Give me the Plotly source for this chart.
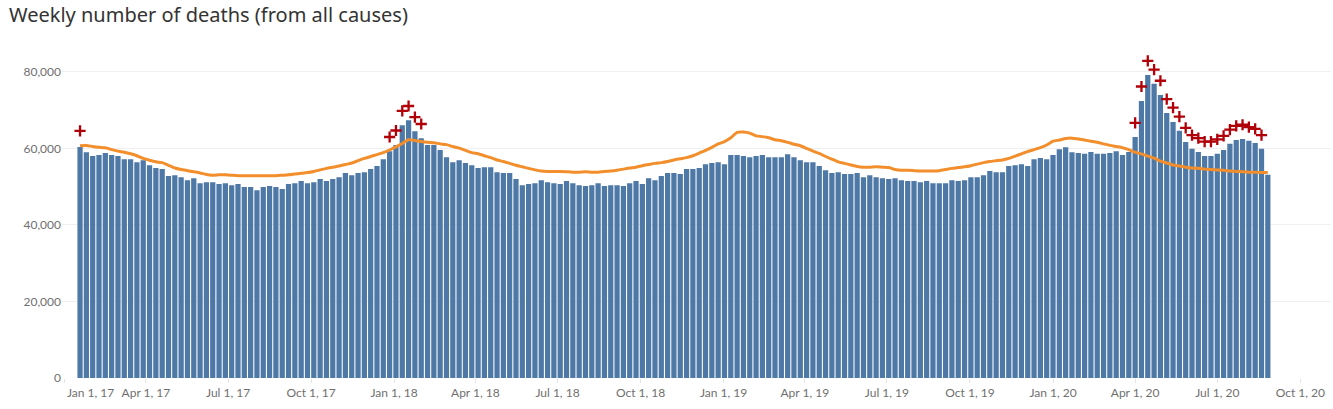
"""Weekly number of deaths (from all causes), Jan 2017 - Aug 2020.

Bars = weekly counts, orange line = upper bound of expected count,
red crosses = weeks where the count is above that threshold.
"""

import pandas as pd
import plotly.graph_objects as go

# --------------------------------------------------------------------------- #
# Data
# --------------------------------------------------------------------------- #
FIRST_WEEK = "2017-01-18"

weekly_deaths = [
    # 2017
    60400, 59000, 58000, 58300, 58800, 58300, 58000, 57200, 57200, 56400,
    56900, 55600, 54900, 54600, 52800, 53000, 52500, 51700, 52200, 50900,
    51200, 51200, 50700, 50900, 50400, 50700, 49900, 49900, 49100, 49900,
    50200, 49900, 49400, 50700, 50900, 51500, 50900, 51200, 52000, 51500,
    52000, 52500, 53600, 53000, 53600, 53800, 54600, 55400, 57200, 59300,
    # 2018
    60900, 66100, 67400, 64500, 62700, 60900, 60900, 59600, 57700, 56400,
    56900, 56200, 55600, 54900, 55100, 55100, 53800, 53600, 53600, 52000,
    50400, 50700, 50900, 51700, 51200, 50900, 50700, 51500, 50900, 50400,
    50200, 50400, 50900, 50200, 50400, 50400, 50200, 50900, 51500, 50700,
    52200, 51700, 52800, 53600, 53600, 53300, 54600, 54600, 54900, 55900,
    56200, 56400, 55900,
    # 2019
    58300, 58300, 58000, 57700, 58000, 58300, 57700, 57700, 57700, 58500,
    57700, 56900, 56400, 56400, 55400, 54300, 53600, 53800, 53300, 53300,
    53600, 52500, 53000, 52500, 52200, 52000, 52200, 51700, 51500, 51500,
    51200, 51500, 50900, 50900, 50900, 51700, 51500, 51700, 52500, 52500,
    53000, 54100, 53800, 53800, 55400, 55600, 55900, 55400, 57200, 57500,
    57200, 58300,
    # 2020
    59800, 60300, 59000, 58800, 58600, 59100, 58600, 58600, 58800, 59300,
    58300, 59100, 63000, 72400, 79200, 76900, 74000, 69300, 66900, 64600,
    61700, 59900, 59100, 58000, 58000, 58600, 59600, 61200, 62200, 62500,
    62000, 61400, 59900, 53100,
]

upper_bound = [
    60700, 60800, 60500, 60300, 60200, 59700, 59300, 59000, 58600, 58100,
    57400, 56900, 56500, 56300, 55600, 54900, 54500, 54200, 53900, 53600,
    53200, 53000, 53100, 53100, 53000, 52900, 52900, 52900, 52900, 52900,
    52900, 52900, 53000, 53100, 53300, 53500, 53700, 54000, 54400, 54800,
    55100, 55400, 55800, 56200, 56800, 57400, 57900, 58400, 58900, 59600,
    60400, 61300, 62300, 62100, 61800, 61600, 61500, 61200, 61000, 60500,
    60100, 59500, 58900, 58600, 58100, 57600, 57000, 56600, 56100, 55600,
    55200, 54800, 54400, 54100, 54000, 54000, 54000, 53900, 53800, 53800,
    53900, 53800, 53800, 54000, 54100, 54300, 54600, 54900, 55100, 55500,
    55800, 56100, 56300, 56600, 57000, 57300, 57600, 58100, 58800, 59500,
    60300, 61200, 61800, 62800, 64200, 64300, 64000, 63300, 63100, 62800,
    62300, 62000, 61600, 61100, 60700, 60000, 59300, 58700, 57900, 57200,
    56500, 56100, 55700, 55300, 55100, 55100, 55200, 55100, 55000, 54500,
    54300, 54300, 54200, 54100, 54100, 54100, 54200, 54500, 54800, 55000,
    55200, 55500, 55900, 56300, 56600, 56800, 57000, 57400, 58000, 58600,
    59200, 59700, 60200, 60900, 61900, 62200, 62600, 62700, 62500, 62200,
    61900, 61600, 61200, 60800, 60500, 60200, 59700, 59000, 58600, 58000,
    57500, 56700, 56200, 55700, 55400, 55100, 54900, 54800, 54600, 54500,
    54400, 54300, 54100, 54000, 53900, 53800, 53800, 53700, 53700,
]

# weeks (1-based) flagged above threshold, and where the cross is drawn
flag_weeks = [1, 50, 51, 52, 53, 54, 55,
              168, 169, 170, 171, 172, 173, 174, 175, 176, 177, 178,
              179, 180, 181, 182, 183, 184, 185, 186, 187, 188]
flag_values = [64600, 63000, 64700, 69800, 71100, 68200, 66400,
               66700, 76200, 82900, 80600, 77700, 72900, 70700, 68300, 65400,
               63500, 62700, 61800, 61800, 62400, 63300, 64900, 65900,
               66200, 65600, 65100, 63500]

tick_dates = ["2017-01-01", "2017-04-01", "2017-07-01", "2017-10-01",
              "2018-01-01", "2018-04-01", "2018-07-01", "2018-10-01",
              "2019-01-01", "2019-04-01", "2019-07-01", "2019-10-01",
              "2020-01-01", "2020-04-01", "2020-07-01", "2020-10-01"]
tick_labels = ["Jan 1, 17", "Apr 1, 17", "Jul 1, 17", "Oct 1, 17",
               "Jan 1, 18", "Apr 1, 18", "Jul 1, 18", "Oct 1, 18",
               "Jan 1, 19", "Apr 1, 19", "Jul 1, 19", "Oct 1, 19",
               "Jan 1, 20", "Apr 1, 20", "Jul 1, 20", "Oct 1, 20"]

# --------------------------------------------------------------------------- #
# Style
# --------------------------------------------------------------------------- #
BAR_COLOR = "#4e79a7"
LINE_COLOR = "#f28e2b"
FLAG_COLOR = "#b00008"
GRID_COLOR = "#efefef"
TICK_FONT = dict(family="Lato, Open Sans, sans-serif", size=12, color="#707070")

weeks = pd.date_range(FIRST_WEEK, periods=len(weekly_deaths), freq="7D")
flag_x = [weeks[i - 1] for i in flag_weeks]

# first label sits to the right of its tick, as in the original
labels = list(tick_labels)
labels[0] = "\u00a0" * 17 + labels[0]

fig = go.Figure()
fig.add_trace(
    go.Bar(
        x=weeks,
        y=weekly_deaths,
        marker=dict(color=BAR_COLOR, line=dict(width=0)),
        name="Deaths",
    )
)
fig.add_trace(
    go.Scatter(
        x=weeks,
        y=upper_bound,
        mode="lines",
        line=dict(color=LINE_COLOR, width=3, shape="spline", smoothing=0.6),
        name="Upper bound threshold",
    )
)
fig.add_trace(
    go.Scatter(
        x=flag_x,
        y=flag_values,
        mode="markers",
        marker=dict(symbol="cross-thin", size=8, line=dict(color=FLAG_COLOR, width=2.3)),
        name="Above threshold",
    )
)

fig.update_layout(
    width=1333,
    height=409,
    template="plotly_white",
    plot_bgcolor="white",
    paper_bgcolor="white",
    showlegend=False,
    bargap=0.17,
    margin=dict(l=62, r=2, t=49, b=31),
    title=dict(
        text="Weekly number of deaths (from all causes)",
        font=dict(family="Noto Sans, Open Sans, sans-serif", size=20, color="#333333"),
        xref="container",
        yref="container",
        x=9 / 1333,
        xanchor="left",
        y=1 - 15 / 409,
        yanchor="middle",
    ),
)
fig.update_xaxes(
    type="date",
    range=["2016-12-29", "2020-11-04"],
    tickvals=tick_dates,
    ticktext=labels,
    tickfont=TICK_FONT,
    showgrid=False,
    ticks="outside",
    ticklen=4,
    tickcolor="#e4e4e4",
    showline=False,
    zeroline=False,
    automargin=False,
)
fig.update_yaxes(
    range=[0, 86000],
    tickvals=[0, 20000, 40000, 60000, 80000],
    tickformat=",d",
    tickfont=TICK_FONT,
    showgrid=True,
    gridcolor=GRID_COLOR,
    gridwidth=1,
    zeroline=False,
    ticks="",
    automargin=False,
)

# the page's default body margin would push the figure off by 8px
fig.write_html(
    "out.html",
    config={"displayModeBar": False},
    post_script="document.body.style.margin = '0';",
)
